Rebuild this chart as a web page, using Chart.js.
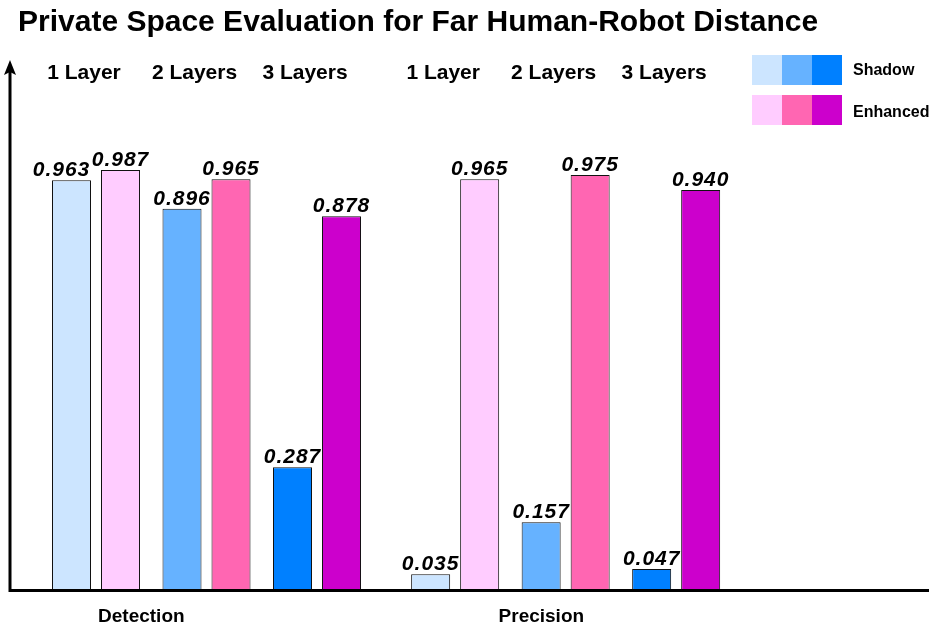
<!DOCTYPE html>
<html>
<head>
<meta charset="utf-8">
<script src="https://cdn.jsdelivr.net/npm/chart.js@4.4.1/dist/chart.umd.min.js"></script>
<style>
  html, body { margin: 0; padding: 0; background: #fff; }
  #wrap { width: 939px; height: 631px; }
</style>
</head>
<body>
<div id="wrap"><canvas id="chart" width="939" height="631"></canvas></div>
<script>
// data
const groups = ['Detection', 'Precision'];
const layers = ['1 Layer', '2 Layers', '3 Layers'];
const shadowValues = [0.963, 0.896, 0.287, 0.035, 0.157, 0.047];
const enhancedValues = [0.987, 0.965, 0.878, 0.965, 0.975, 0.940];

const shadowColors = ['#cce5ff', '#66b2ff', '#0080ff'];
const enhancedColors = ['#ffccff', '#ff66b2', '#cc00cc'];

const FONT = "'Liberation Sans', Arial, Helvetica, sans-serif";
const groupGap = 0.25;              // extra space between the two groups (in layer widths)
const groupLabelX = [0.41, 4.03];   // where the group names sit on the x scale

// one x position per layer, groups pushed apart by groupGap
const layerPos = [];
groups.forEach((g, gi) => {
    layers.forEach((l, li) => layerPos.push(gi * (layers.length + groupGap) + li));
});

const pointsOf = vals => vals.map((v, i) => ({ x: layerPos[i], y: v }));
const colorsFor = palette => layerPos.map((p, i) => palette[i % layers.length]);

// draws title, axes, labels and the legend blocks
const decorations = {
    id: 'decorations',
    afterDatasetsDraw(chart) {
        const ctx = chart.ctx;
        const area = chart.chartArea;
        const xs = chart.scales.x;
        ctx.save();
        ctx.fillStyle = '#000';

        // title
        ctx.font = 'bold 30px ' + FONT;
        ctx.textAlign = 'left';
        ctx.textBaseline = 'alphabetic';
        ctx.fillText('Private Space Evaluation for Far Human-Robot Distance', 18, 31);

        // value labels above bars, the shadow one nudged left when it would touch its neighbour
        ctx.font = 'italic bold 21px ' + FONT;
        ctx.letterSpacing = '1px';
        ctx.textAlign = 'center';
        const sBars = chart.getDatasetMeta(0).data;
        const eBars = chart.getDatasetMeta(1).data;
        sBars.forEach((bar, i) => {
            const nudge = Math.abs(bar.y - eBars[i].y) < 20 ? 10 : 0;
            ctx.fillText(shadowValues[i].toFixed(3), bar.x - nudge, bar.y - 4);
        });
        eBars.forEach((bar, i) => {
            ctx.fillText(enhancedValues[i].toFixed(3), bar.x, bar.y - 4);
        });
        ctx.letterSpacing = '0px';

        // layer labels along the top
        ctx.font = 'bold 21px ' + FONT;
        layerPos.forEach((p, i) => {
            ctx.fillText(layers[i % layers.length], xs.getPixelForValue(p) - 12, 79);
        });

        // group labels under the axis
        ctx.font = 'bold 19px ' + FONT;
        groups.forEach((g, i) => {
            ctx.fillText(g, xs.getPixelForValue(groupLabelX[i]), 622);
        });

        // axes
        ctx.strokeStyle = '#000';
        ctx.lineWidth = 3;
        ctx.beginPath();
        ctx.moveTo(10, area.bottom + 3);
        ctx.lineTo(10, area.top + 12);
        ctx.moveTo(8.5, area.bottom + 1.5);
        ctx.lineTo(area.right, area.bottom + 1.5);
        ctx.stroke();
        ctx.beginPath();
        ctx.moveTo(10, area.top);
        ctx.lineTo(16, area.top + 15);
        ctx.lineTo(10, area.top + 12);
        ctx.lineTo(4, area.top + 15);
        ctx.closePath();
        ctx.fill();

        // legend
        [['Shadow', shadowColors, 55, 75], ['Enhanced', enhancedColors, 95, 116.5]].forEach(row => {
            row[1].forEach((c, i) => {
                ctx.fillStyle = c;
                ctx.fillRect(752 + i * 30, row[2], 30, 30);
            });
            ctx.fillStyle = '#000';
            ctx.font = 'bold 16px ' + FONT;
            ctx.textAlign = 'left';
            ctx.fillText(row[0], 853, row[3]);
        });
        ctx.restore();
    }
};

new Chart(document.getElementById('chart'), {
    type: 'bar',
    data: {
        datasets: [{
            label: 'Shadow',
            data: pointsOf(shadowValues),
            backgroundColor: colorsFor(shadowColors),
            borderColor: '#111',
            borderWidth: 1
        }, {
            label: 'Enhanced',
            data: pointsOf(enhancedValues),
            backgroundColor: colorsFor(enhancedColors),
            borderColor: '#111',
            borderWidth: 1
        }]
    },
    options: {
        responsive: false,
        animation: false,
        categoryPercentage: 0.887,
        barPercentage: 0.796,
        layout: { padding: { left: 10, right: 10, top: 60, bottom: 42 } },
        plugins: { legend: { display: false }, title: { display: false }, tooltip: { enabled: false } },
        scales: {
            x: {
                type: 'linear',
                display: false,
                offset: false,
                min: -0.7783,
                max: 7.538,
                afterBuildTicks: scale => { scale.ticks = groupLabelX.map(v => ({ value: v })); }
            },
            y: {
                display: false,
                min: 0,
                max: 1.2462
            }
        }
    },
    plugins: [decorations]
});
</script>
</body>
</html>
